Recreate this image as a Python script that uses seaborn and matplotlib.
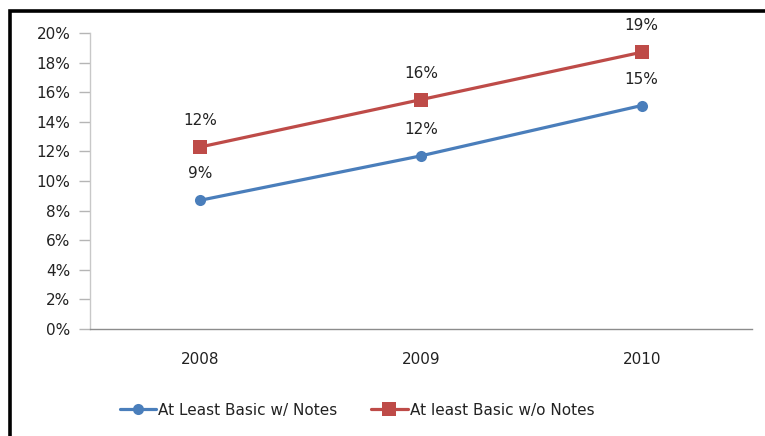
import matplotlib
matplotlib.use("Agg")
import matplotlib.pyplot as plt
import seaborn as sns
import pandas as pd
from matplotlib.patches import Rectangle
from matplotlib.ticker import FuncFormatter

years = ["2008", "2009", "2010"]
series_names = ["At Least Basic w/ Notes", "At least Basic w/o Notes"]
with_notes = [8.7, 11.7, 15.1]
without_notes = [12.3, 15.5, 18.7]
label_with = ["9%", "12%", "15%"]
label_without = ["12%", "16%", "19%"]
yticks = [0, 2, 4, 6, 8, 10, 12, 14, 16, 18, 20]

colors = {series_names[0]: "#4a7ebb", series_names[1]: "#be4b48"}
markers = {series_names[0]: "o", series_names[1]: "s"}

df = pd.DataFrame({
    "year": years * 2,
    "value": with_notes + without_notes,
    "series": [series_names[0]] * 3 + [series_names[1]] * 3,
})
df["x"] = [0, 1, 2, 0, 1, 2]

sns.set_style("white")
plt.rcParams["font.family"] = ["DejaVu Sans"]
FS = 11

fig = plt.figure(figsize=(7.65, 4.36), dpi=100)
ax = fig.add_axes([90 / 765, 1 - 329 / 436, (752 - 90) / 765, (329 - 33) / 436])

sns.lineplot(data=df, x="x", y="value", hue="series", style="series",
             palette=colors, markers=markers, dashes=False, linewidth=2.3,
             markersize=8, markeredgewidth=0, ax=ax, legend=True)
# larger square markers like the reference
for ln in ax.lines:
    if ln.get_marker() == "s":
        ln.set_markersize(10)

for xs, vals, labs in [(df["x"][:3], with_notes, label_with),
                       (df["x"][3:], without_notes, label_without)]:
    for xi, v, lab in zip(xs, vals, labs):
        ax.annotate(lab, (xi, v), xytext=(0, 19), textcoords="offset points",
                    ha="center", va="center", fontsize=FS, color="#222222")

ax.set_xlim(-0.5, 2.5)
ax.set_ylim(0, 20)
ax.set_yticks(yticks)
ax.yaxis.set_major_formatter(FuncFormatter(lambda v, p: f"{int(v)}%"))
ax.set_xticks([0, 1, 2])
ax.set_xticklabels(years)
ax.set_xlabel("")
ax.set_ylabel("")
ax.tick_params(axis="y", which="major", left=True, length=8, width=1,
               color="#b5b5b5", labelsize=FS, labelcolor="#222222", pad=6)
ax.tick_params(axis="x", bottom=False, labelsize=FS, labelcolor="#222222", pad=13)
for s in ["top", "right"]:
    ax.spines[s].set_visible(False)
ax.spines["left"].set_color("#c8c8c8")
ax.spines["bottom"].set_color("#8c8c8c")
ax.spines["left"].set_linewidth(1)
ax.spines["bottom"].set_linewidth(1)

handles, labels = ax.get_legend_handles_labels()
for h in handles:
    if h.get_marker() == "s":
        h.set_markersize(10)
ax.legend(handles, labels, loc="center", bbox_to_anchor=(357 / 765, 1 - 410 / 436),
          bbox_transform=fig.transFigure, ncol=2, frameon=False, fontsize=FS,
          handlelength=2.4, handletextpad=0.12, columnspacing=2.2,
          labelcolor="#222222")

# outer frame (top and left border visible)
fig.patches.append(Rectangle((9.5 / 765, -0.1), 1.2, 1 - 11 / 436 + 0.1,
                             transform=fig.transFigure, fill=False,
                             edgecolor="black", linewidth=2.6, zorder=10))

fig.savefig("out.png", dpi=100)
